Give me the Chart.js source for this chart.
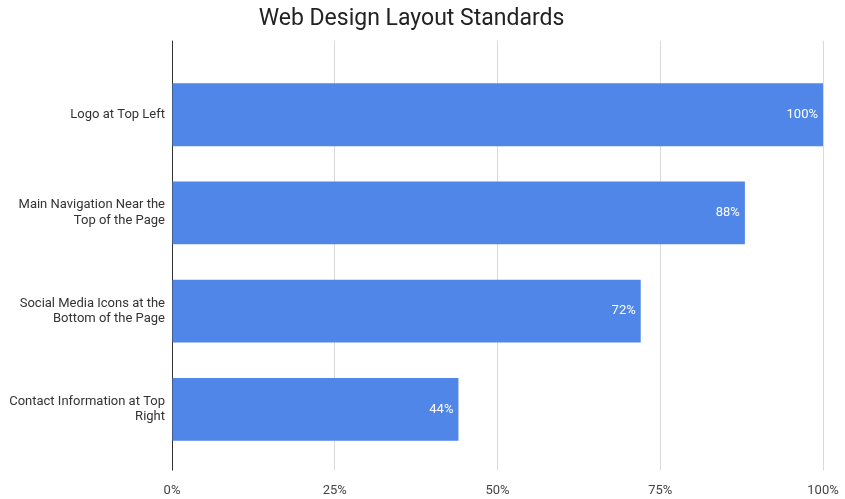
<!DOCTYPE html>
<html>
<head>
<meta charset="utf-8">
<script src="https://cdn.jsdelivr.net/npm/chart.js@4/dist/chart.umd.min.js"></script>
<style>
  html, body { margin: 0; padding: 0; background: #fff; }
  #wrap { width: 845px; height: 499px; }
</style>
</head>
<body>
<div id="wrap"><canvas id="chart"></canvas></div>
<script>
// chart data
const categories = [
  "Logo at Top Left",
  ["Main Navigation Near the", "Top of the Page"],
  ["Social Media Icons at the", "Bottom of the Page"],
  ["Contact Information at Top", "Right"]
];
const percentValues = [100, 88, 72, 44];
const tickValues = [0, 25, 50, 75, 100];

const barColor = "#4f86e8";
const gridColor = "#d9d9d9";
const zeroLineColor = "#333333";

// draws the value inside the end of each bar
const valueLabels = {
  id: "valueLabels",
  afterDatasetsDraw(chart) {
    const ctx = chart.ctx;
    const meta = chart.getDatasetMeta(0);
    ctx.save();
    ctx.font = "13px Roboto";
    ctx.fillStyle = "#ffffff";
    ctx.textAlign = "right";
    ctx.textBaseline = "middle";
    meta.data.forEach((bar, i) => {
      ctx.fillText(percentValues[i] + "%", bar.x - 5, bar.y);
    });
    ctx.restore();
  }
};

function gridLineColor(c) {
  return c.tick && c.tick.value === 0 ? zeroLineColor : gridColor;
}

new Chart(document.getElementById("chart"), {
  type: "bar",
  data: {
    labels: categories,
    datasets: [{
      data: percentValues,
      backgroundColor: barColor,
      borderWidth: 0,
      barPercentage: 0.64,
      categoryPercentage: 1
    }]
  },
  options: {
    indexAxis: "y",
    responsive: true,
    maintainAspectRatio: false,
    animation: false,
    layout: { padding: { left: 0, right: 22, top: 0, bottom: 0 } },
    plugins: {
      legend: { display: false },
      tooltip: { enabled: false },
      title: {
        display: true,
        text: "Web Design Layout Standards",
        color: "#222222",
        font: { family: "Roboto", size: 23, weight: "normal" },
        padding: { top: 5, bottom: 8 }
      }
    },
    scales: {
      x: {
        type: "linear",
        position: "bottom",
        min: 0,
        max: 100,
        afterBuildTicks(scale) {
          scale.ticks = tickValues.map(v => ({ value: v }));
        },
        ticks: {
          callback: v => v + "%",
          color: "#444444",
          font: { family: "Roboto", size: 13 },
          padding: 12,
          maxRotation: 0
        },
        grid: {
          color: gridLineColor,
          lineWidth: 1,
          drawTicks: true,
          tickLength: 12
        },
        border: { display: false },
        afterFit(scale) {
          scale.height = 40.5;
          scale.paddingLeft = 0;
          scale.paddingRight = 0;
        }
      },
      xTop: {
        type: "linear",
        position: "top",
        min: 0,
        max: 100,
        afterBuildTicks(scale) {
          scale.ticks = tickValues.map(v => ({ value: v }));
        },
        ticks: { display: false },
        grid: {
          color: gridLineColor,
          lineWidth: 1,
          drawTicks: true,
          tickLength: 25
        },
        border: { display: false },
        afterFit(scale) {
          scale.height = 25;
          scale.paddingLeft = 0;
          scale.paddingRight = 0;
        }
      },
      y: {
        grid: { display: false, drawTicks: false },
        border: { display: false },
        ticks: {
          color: "#333333",
          font: { family: "Roboto", size: 13 },
          padding: 7,
          crossAlign: "near"
        },
        afterFit(scale) { scale.width = 172; }
      }
    }
  },
  plugins: [valueLabels]
});
</script>
</body>
</html>
